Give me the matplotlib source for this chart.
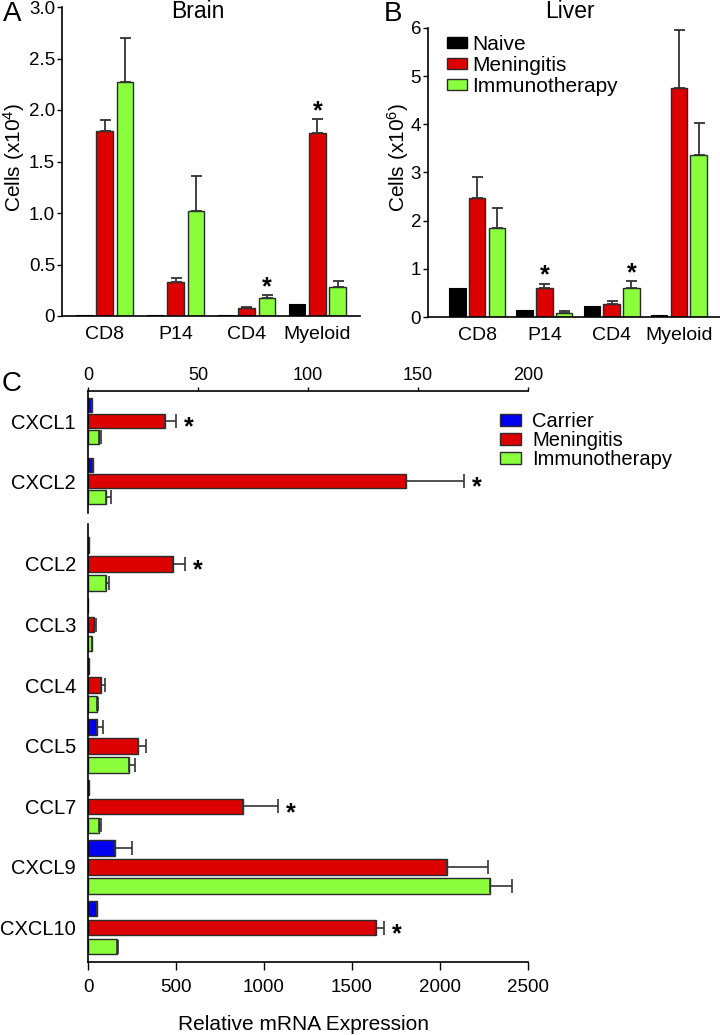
import numpy as np
import matplotlib
matplotlib.use("Agg")
import matplotlib.pyplot as plt
from matplotlib.patches import Patch

plt.rcParams['font.family'] = ['Liberation Sans', 'DejaVu Sans']
plt.rcParams['mathtext.default'] = 'regular'

# ── colours ───────────────────────────────────────────────────────────────
BLACK = "#000000"
RED = "#dd0000"
GREEN = "#8cff3c"
BLUE = "#0000ee"
EDGE = "#2a2a2a"
ERR = "#333333"

# ── Panel A : Brain (x10^4) ───────────────────────────────────────────────
cell_types = ["CD8", "P14", "CD4", "Myeloid"]
brain_naive = [0.01, 0.01, 0.005, 0.12]
brain_men = [1.80, 0.33, 0.075, 1.78]
brain_men_err = [0.10, 0.04, 0.015, 0.13]
brain_imm = [2.27, 1.02, 0.17, 0.28]
brain_imm_err = [0.43, 0.34, 0.03, 0.06]
brain_men_star = [False, False, False, True]
brain_imm_star = [False, False, True, False]

# ── Panel B : Liver (x10^6) ───────────────────────────────────────────────
liver_naive = [0.60, 0.14, 0.23, 0.04]
liver_men = [2.48, 0.61, 0.27, 4.75]
liver_men_err = [0.42, 0.08, 0.06, 1.21]
liver_imm = [1.84, 0.09, 0.60, 3.36]
liver_imm_err = [0.43, 0.03, 0.14, 0.67]
liver_men_star = [False, True, False, False]
liver_imm_star = [False, False, True, False]

# ── Panel C : chemokines, relative mRNA expression ────────────────────────
genes_top = ["CXCL1", "CXCL2"]
top_car = [2.0, 2.2]
top_men = [35.0, 144.5]
top_men_err = [5.0, 26.5]
top_imm = [5.0, 8.0]
top_imm_err = [1.0, 2.5]
top_men_star = [True, True]

genes_bot = ["CCL2", "CCL3", "CCL4", "CCL5", "CCL7", "CXCL9", "CXCL10"]
bot_car = [3, 2, 3, 53, 3, 153, 50]
bot_car_err = [0, 0, 0, 33, 0, 99, 3]
bot_men = [483, 36, 75, 282, 883, 2042, 1638]
bot_men_err = [68, 9, 20, 48, 195, 233, 43]
bot_imm = [102, 22, 50, 235, 62, 2285, 166]
bot_imm_err = [17, 0, 7, 30, 10, 125, 6]
bot_men_star = [True, False, False, False, True, False, True]


def px(v):
    return v * 72.0 / 100.0  # pixels -> points at dpi 100


fig = plt.figure(figsize=(7.2, 10.35), dpi=100)
W, H = 720.0, 1035.0


def axes_px(x0, y0, x1, y1):
    return fig.add_axes([x0 / W, 1 - y1 / H, (x1 - x0) / W, (y1 - y0) / H])


def vbars(ax, naive, men, men_err, imm, imm_err, men_star, imm_star, step, width):
    x = np.arange(len(naive))
    ekw = dict(ecolor=ERR, elinewidth=1.3, capthick=1.3, capsize=px(5.5))
    ax.bar(x - step, naive, width, color=BLACK, edgecolor=BLACK, lw=0.8)
    ax.bar(x, men, width, color=RED, edgecolor=EDGE, lw=1.0,
           yerr=[np.zeros(len(men)), men_err], error_kw=ekw)
    ax.bar(x + step, imm, width, color=GREEN, edgecolor=EDGE, lw=1.0,
           yerr=[np.zeros(len(imm)), imm_err], error_kw=ekw)
    for xs, vals, errs, stars in ((x, men, men_err, men_star),
                                  (x + step, imm, imm_err, imm_star)):
        for xi, v, e, s in zip(xs, vals, errs, stars):
            if s:
                ax.annotate("*", xy=(xi, v + e), xytext=(0, px(1)),
                            textcoords="offset points", ha="center",
                            va="baseline", fontsize=18, fontweight="bold")
    ax.set_xticks(x, cell_types)
    ax.tick_params(axis="x", length=0, pad=px(10), labelsize=14)
    ax.tick_params(axis="y", length=px(5), width=1, pad=px(2), labelsize=13.5,
                   direction="out")
    for s in ("top", "right"):
        ax.spines[s].set_visible(False)
    for s in ("left", "bottom"):
        ax.spines[s].set_linewidth(1.2)


# Panel A
axA = axes_px(62, 7, 360, 316)
vbars(axA, brain_naive, brain_men, brain_men_err, brain_imm, brain_imm_err,
      brain_men_star, brain_imm_star, step=0.286, width=0.232)
axA.set_xlim(-0.6, 3.6)
axA.set_ylim(0, 3.0)
axA.set_yticks([0, 0.5, 1.0, 1.5, 2.0, 2.5, 3.0],
               ["0", "0.5", "1.0", "1.5", "2.0", "2.5", "3.0"])
fig.text(1 / W, 1 - 157 / H, "Cells (x10$^4$)", rotation=90, ha="left",
         va="center", fontsize=15)
fig.text(198 / W, 1 - 11 / H, "Brain", ha="center", va="center", fontsize=16.5)
fig.text(12 / W, 1 - 14 / H, "A", ha="center", va="center", fontsize=20)

# Panel B
axB = axes_px(428, 28, 720, 317)
vbars(axB, liver_naive, liver_men, liver_men_err, liver_imm, liver_imm_err,
      liver_men_star, liver_imm_star, step=0.294, width=0.245)
axB.set_xlim(-0.73, 3.61)
axB.set_ylim(0, 6)
axB.set_yticks(range(7))
fig.text(385 / W, 1 - 157 / H, "Cells (x10$^6$)", rotation=90, ha="left",
         va="center", fontsize=15)
fig.text(570 / W, 1 - 11 / H, "Liver", ha="center", va="center", fontsize=16.5)
fig.text(393 / W, 1 - 14 / H, "B", ha="center", va="center", fontsize=20)
handles_b = [Patch(facecolor=BLACK, edgecolor=BLACK),
             Patch(facecolor=RED, edgecolor=EDGE),
             Patch(facecolor=GREEN, edgecolor=EDGE)]
fig.legend(handles_b, ["Naive", "Meningitis", "Immunotherapy"],
           loc="upper left", bbox_to_anchor=(447 / W, 1 - 35 / H),
           frameon=False, fontsize=15, handlelength=0.96, handleheight=0.48,
           handletextpad=0.24, labelspacing=0.09, borderpad=0, borderaxespad=0)


def hbars(ax, car, car_err, men, men_err, imm, imm_err, men_star, genes,
          step, height):
    y = np.arange(len(car))
    ekw = dict(ecolor=ERR, elinewidth=1.2, capthick=1.2, capsize=px(7))
    n = len(car)
    ax.barh(y - step, car, height, color=BLUE, edgecolor=EDGE, lw=1.0,
            xerr=[np.zeros(n), car_err], error_kw=ekw)
    ax.barh(y, men, height, color=RED, edgecolor=EDGE, lw=1.0,
            xerr=[np.zeros(n), men_err], error_kw=ekw)
    ax.barh(y + step, imm, height, color=GREEN, edgecolor=EDGE, lw=1.0,
            xerr=[np.zeros(n), imm_err], error_kw=ekw)
    for yi, v, e, s in zip(y, men, men_err, men_star):
        if s:
            ax.annotate("*", xy=(v + e, yi), xytext=(px(13), -px(13.5)),
                        textcoords="offset points", ha="center",
                        va="baseline", fontsize=18, fontweight="bold")
    ax.set_yticks(y, genes)
    ax.tick_params(axis="y", length=0, pad=px(12), labelsize=14.5)
    ax.spines["right"].set_visible(False)
    ax.spines["left"].set_linewidth(1.2)


# Panel C, upper part (0-200 scale)
axCt = axes_px(88, 391, 528, 513)
hbars(axCt, top_car, [0, 0], top_men, top_men_err, top_imm, top_imm_err,
      top_men_star, genes_top, step=0.267, height=0.225)
axCt.set_ylim(1.533, -0.5)
axCt.set_xlim(0, 200)
axCt.set_xticks([0, 50, 100, 150, 200])
axCt.xaxis.tick_top()
axCt.tick_params(axis="x", length=px(4.5), width=1, pad=px(3), labelsize=13)
axCt.spines["bottom"].set_visible(False)
axCt.spines["top"].set_linewidth(1.2)

# Panel C, lower part (0-2500 scale)
axCb = axes_px(88, 524, 528, 962)
hbars(axCb, bot_car, bot_car_err, bot_men, bot_men_err, bot_imm, bot_imm_err,
      bot_men_star, genes_bot, step=0.314, height=0.256)
axCb.set_ylim(6.568, -0.66)
axCb.set_xlim(0, 2500)
axCb.set_xticks([0, 500, 1000, 1500, 2000, 2500])
axCb.tick_params(axis="x", length=px(8), width=1, pad=px(9), labelsize=13.5)
axCb.spines["top"].set_visible(False)
axCb.spines["bottom"].set_linewidth(1.2)
fig.text(304 / W, 1 - 1025 / H, "Relative mRNA Expression", ha="center",
         va="center", fontsize=15)
fig.text(12 / W, 1 - 384 / H, "C", ha="center", va="center", fontsize=20)

handles_c = [Patch(facecolor=BLUE, edgecolor=EDGE),
             Patch(facecolor=RED, edgecolor=EDGE),
             Patch(facecolor=GREEN, edgecolor=EDGE)]
fig.legend(handles_c, ["Carrier", "Meningitis", "Immunotherapy"],
           loc="upper left", bbox_to_anchor=(500 / W, 1 - 412 / H),
           frameon=False, fontsize=14.5, handlelength=1.04, handleheight=0.55,
           handletextpad=0.55, labelspacing=0.0, borderpad=0, borderaxespad=0)

fig.savefig("out.png", dpi=100)
